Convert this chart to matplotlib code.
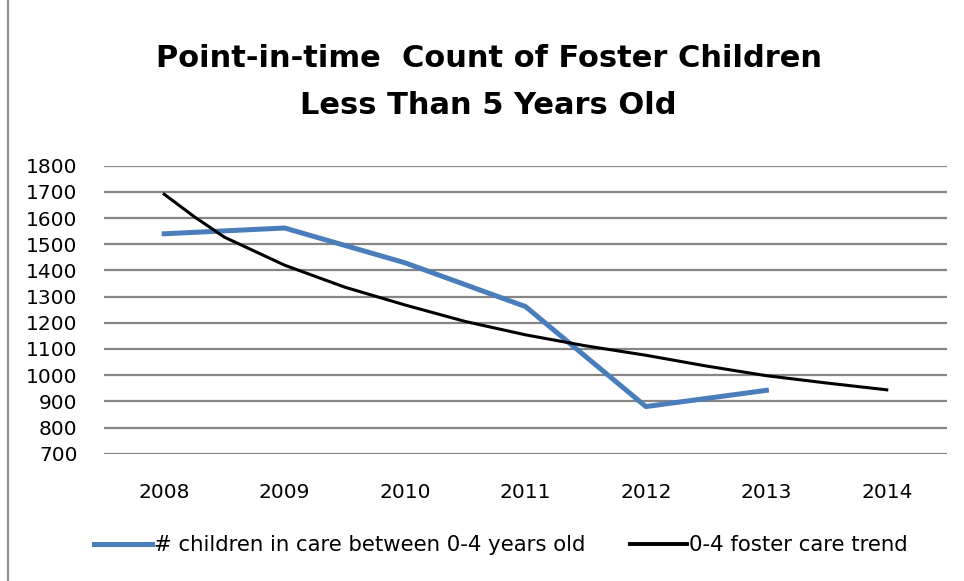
import matplotlib
matplotlib.use("Agg")
import matplotlib.pyplot as plt
from matplotlib.lines import Line2D

# Data
years = [2008, 2009, 2010, 2011, 2012, 2013, 2014]
count_years = [2008, 2009, 2010, 2011, 2012, 2013]
children_0_4 = [1540, 1562, 1429, 1262, 880, 942]
trend_x = [2008, 2008.25, 2008.5, 2009, 2009.5, 2010, 2010.5, 2011, 2011.5,
           2012, 2012.5, 2013, 2013.5, 2014]
trend_y = [1691, 1605, 1527, 1420, 1336, 1268, 1205, 1154, 1112,
           1076, 1035, 998, 970, 944]
y_ticks = [700, 800, 900, 1000, 1100, 1200, 1300, 1400, 1500, 1600, 1700, 1800]
title = "Point-in-time  Count of Foster Children\nLess Than 5 Years Old"
series_labels = ["# children in care between 0-4 years old", "0-4 foster care trend"]

blue = "#4A7EBB"
grid = "#868686"

fig = plt.figure(figsize=(9.64, 5.81), dpi=100)
ax = fig.add_axes([104 / 964, 1 - 453.7 / 581, 843 / 964, 288 / 581])

ax.plot(count_years, children_0_4, color=blue, lw=3.6, solid_joinstyle="round",
        zorder=3)
ax.plot(trend_x, trend_y, color="black", lw=2.2, zorder=4)

ax.set_xlim(2007.5, 2014.5)
ax.set_ylim(700, 1800)
ax.set_yticks(y_ticks)
ax.set_xticks(years)
ax.set_xticklabels([str(y) for y in years])
ax.grid(axis="y", color=grid, lw=1.6)
ax.set_axisbelow(True)
for s in ax.spines.values():
    s.set_visible(False)
ax.tick_params(axis="y", length=0, pad=19, labelsize=14.5)
ax.tick_params(axis="x", length=0, pad=21, labelsize=14.5)

fig.text(0.507, 1 - 82 / 581, title, ha="center", va="center",
         fontsize=22, fontweight="bold", linespacing=1.8)

# left border line
fig.add_artist(Line2D([8 / 964, 8 / 964], [0, 1], color="#8c8c8c", lw=1.6,
                      transform=fig.transFigure))

handles = [Line2D([], [], color=blue, lw=3.6),
           Line2D([], [], color="black", lw=2.8)]
fig.legend(handles, series_labels, loc="center", ncol=2,
           bbox_to_anchor=(501 / 964, 1 - 545 / 581), frameon=False,
           fontsize=15.3, handlelength=2.7, handletextpad=0.1,
           columnspacing=2.1)

fig.savefig("out.png", dpi=100, facecolor="white")
